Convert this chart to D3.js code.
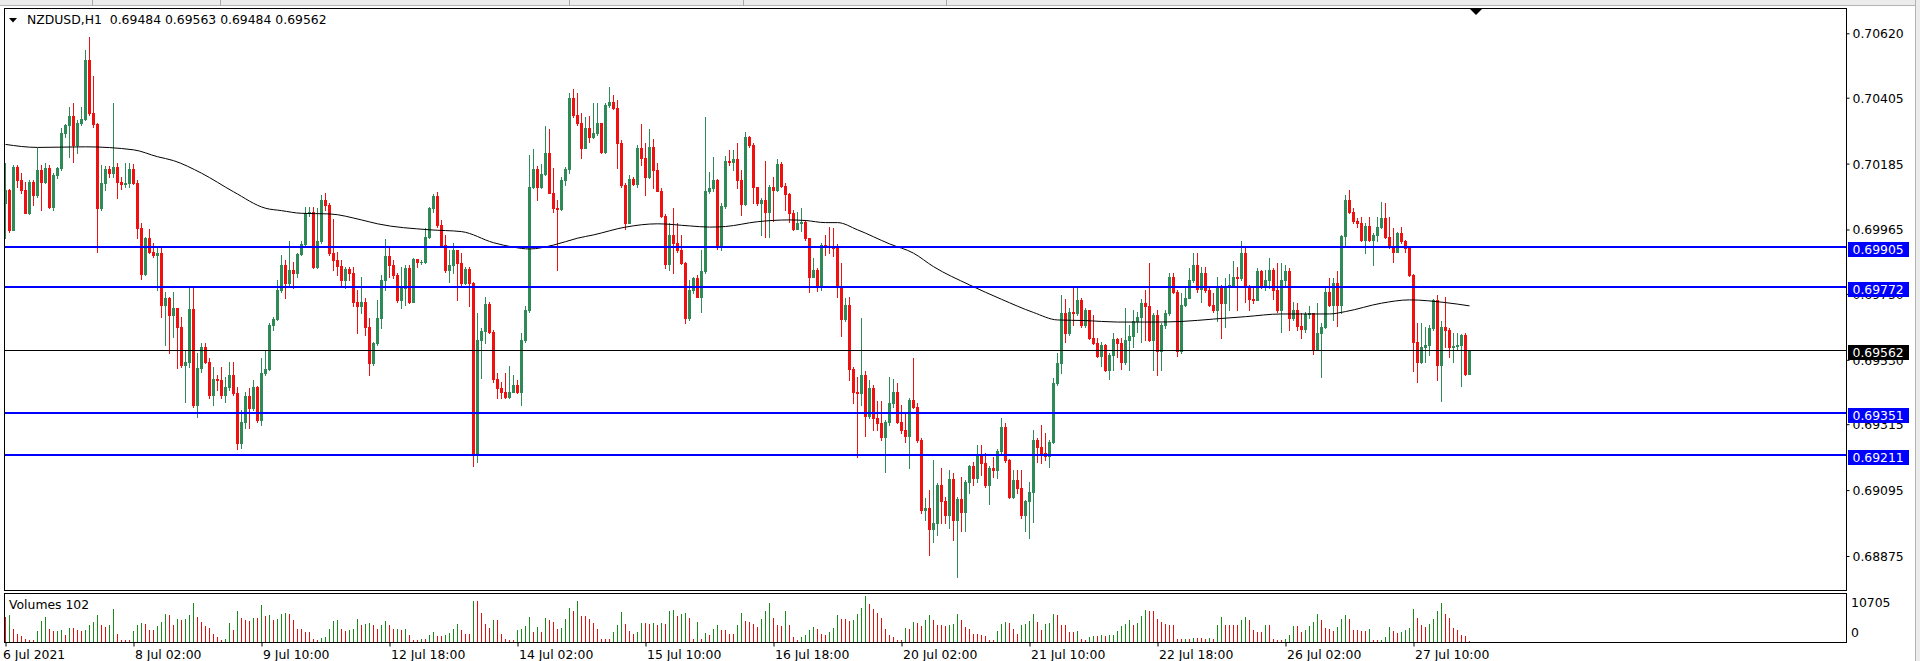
<!DOCTYPE html>
<html><head><meta charset="utf-8">
<script src="https://cdn.jsdelivr.net/npm/d3@7/dist/d3.min.js"></script>
<style>
html,body{margin:0;padding:0;background:#fff;overflow:hidden;}
svg{display:block;}
text{font-family:"DejaVu Sans",Verdana,sans-serif;font-size:12.4px;fill:#000;}
</style></head><body>
<svg id="c" width="1920" height="661"></svg>
<script>
// ---------------- DATA (prices in points, 1 point = 0.00001) ----------------
const symbolTitle = "NZDUSD,H1  0.69484 0.69563 0.69484 0.69562";
const volumeTitle = "Volumes 102";
const firstOpen = 70052;
const closes = [
70097,69963,70175,70130,70097,70021,70125,70080,70164,70125,
70169,70041,70147,70169,70286,70314,70344,70247,70319,70333,
70531,70353,70316,70036,70119,70166,70155,70175,70125,70117,
70121,70166,70119,69969,69816,69936,69891,69880,69885,69713,
69735,69680,69702,69641,69513,69524,69699,69379,69502,69572,
69524,69413,69465,69463,69413,69438,69479,69418,69251,69324,
69409,69368,69438,69329,69485,69498,69646,69665,69763,69847,
69785,69830,69819,69883,69917,70021,70025,69841,69925,70064,
70047,69886,69863,69843,69797,69832,69819,69724,69708,69724,
69641,69518,69585,69669,69797,69877,69847,69813,69730,69769,
69836,69724,69866,69858,69858,69941,70036,70077,69980,69913,
69830,69847,69897,69852,69785,69832,69785,69212,69596,69627,
69716,69624,69465,69435,69424,69405,69424,69446,69424,69596,
69696,70108,70166,70108,70150,70222,70088,70036,70032,70130,
70166,70403,70347,70320,70236,70303,70275,70288,70320,70225,
70381,70389,70370,70253,70114,69988,70133,70117,70236,70203,
70139,70242,70164,70095,70010,69850,69947,69919,69897,69852,
69669,69763,69802,69741,69825,70092,70103,70131,69908,70042,
70195,70192,70200,70131,70050,70275,70247,70106,70053,70064,
70025,70108,70097,70184,70111,70084,70019,69966,69986,69991,
69936,69808,69830,69772,69914,69910,69908,69902,69775,69665,
69713,69499,69424,69418,69480,69341,69435,69335,69318,69272,
69321,69385,69424,69324,69296,69274,69396,69374,69263,69029,
69034,68964,68984,69112,69057,69012,69131,68996,69065,69023,
69123,69174,69135,69212,69185,69112,69168,69162,69224,69307,
69196,69073,69129,69101,69012,69057,69090,69263,69240,69218,
69209,69257,69452,69519,69685,69621,69691,69685,69730,69646,
69697,69602,69585,69543,69580,69496,69546,69599,69585,69521,
69596,69608,69658,69674,69719,69710,69596,69680,69558,69646,
69685,69808,69758,69558,69713,69736,69797,69847,69766,69819,
69763,69713,69697,69775,69721,69777,69780,69806,69802,69886,
69775,69732,69730,69825,69775,69797,69830,69763,69697,69797,
69825,69669,69697,69643,69632,69683,69686,69565,69619,69641,
69758,69713,69786,69713,69944,70062,70025,69995,69986,69930,
69977,69930,69947,69975,70003,69941,69908,69891,69953,69925,
69903,69814,69591,69524,69574,69580,69635,69728,69513,69641,
69630,69574,69577,69580,69613,69484,69562];
const highs = [
70188,70099,70180,70180,70153,70125,70130,70130,70236,70180,
70186,70180,70153,70175,70303,70317,70375,70386,70331,70373,
70564,70609,70477,70319,70180,70177,70177,70388,70186,70141,
70186,70186,70184,70130,69986,69941,69966,69919,69908,69908,
69758,69741,69758,69702,69674,69563,69774,69774,69552,69585,
69587,69535,69507,69479,69507,69474,69524,69524,69440,69362,
69424,69435,69463,69443,69535,69563,69652,69674,69796,69880,
69863,69927,69858,69886,69925,70041,70041,70041,70036,70080,
70086,70053,69999,69891,69863,69841,69841,69841,69763,69806,
69735,69669,69591,69730,69813,69933,69902,69863,69819,69841,
69847,69847,69869,69866,69863,69969,70041,70084,70091,69997,
69947,69897,69919,69891,69886,69841,69841,69791,69685,69635,
69741,69724,69630,69485,69457,69485,69510,69479,69463,69619,
69708,70214,70233,70177,70184,70311,70300,70169,70064,70141,
70175,70422,70433,70420,70353,70342,70344,70386,70386,70320,
70386,70440,70414,70398,70264,70119,70147,70139,70247,70318,
70253,70300,70266,70186,70103,70017,69986,70036,69986,69947,
69858,69797,69808,69813,69895,70340,70158,70208,70133,70053,
70211,70231,70231,70255,70164,70289,70277,70253,70108,70069,
70195,70114,70139,70200,70192,70119,70088,70030,70022,70036,
69997,69936,69869,69836,69919,69947,69975,69969,69917,69852,
69736,69741,69507,69474,69669,69491,69463,69446,69391,69391,
69329,69472,69465,69452,69379,69357,69402,69535,69385,69268,
69068,69096,69196,69118,69168,69073,69162,69151,69073,69140,
69129,69179,69190,69246,69246,69218,69174,69207,69231,69335,
69318,69198,69162,69162,69162,69062,69123,69296,69268,69313,
69285,69263,69468,69552,69747,69732,69702,69774,69774,69735,
69702,69669,69680,69602,69591,69583,69552,69619,69602,69602,
69702,69646,69697,69691,69732,69763,69852,69685,69697,69652,
69697,69821,69819,69763,69752,69775,69836,69888,69886,69841,
69841,69769,69752,69808,69780,69802,69817,69861,69841,69925,
69908,69780,69775,69836,69830,69830,69869,69836,69852,69852,
69847,69836,69724,69721,69686,69691,69708,69683,69719,69652,
69775,69802,69802,69825,69947,70081,70097,70036,70003,70008,
69986,70006,69953,70008,70058,70055,70008,69969,69958,69973,
69930,69906,69817,69652,69652,69641,69647,69732,69747,69658,
69741,69635,69619,69621,69617,69619,69563];
const lows = [
69936,69958,70002,70108,70086,70019,70017,70047,70075,70030,
70119,70036,70030,70136,70164,70275,70208,70191,70219,70314,
70331,70347,70308,69891,70030,70097,70141,70141,70069,70099,
70108,70108,70117,69936,69799,69813,69886,69874,69763,69674,
69580,69552,69607,69502,69507,69390,69507,69374,69340,69490,
69518,69401,69379,69429,69401,69390,69429,69413,69231,69235,
69301,69301,69362,69324,69312,69479,69496,69630,69663,69758,
69735,69774,69769,69808,69880,69913,70010,69836,69836,69921,
70030,69880,69830,69813,69774,69769,69797,69708,69619,69685,
69613,69480,69513,69580,69635,69763,69808,69802,69724,69702,
69713,69721,69769,69841,69850,69852,69936,70025,69975,69913,
69824,69791,69819,69730,69780,69783,69710,69174,69190,69468,
69585,69619,69457,69402,69402,69402,69402,69429,69418,69379,
69591,69691,70103,70064,70103,70147,70086,70025,69830,70030,
70114,70153,70342,70314,70203,70236,70258,70270,70281,70222,
70220,70375,70366,70170,70108,69966,69986,70114,70108,70181,
70080,70136,70103,70092,70008,69836,69830,69821,69891,69850,
69652,69663,69754,69739,69691,69821,70086,70092,69899,69897,
70036,70181,70164,70103,70014,70047,70242,70053,70047,69947,
69941,69941,69995,70095,70106,70030,69991,69964,69973,69961,
69930,69758,69806,69761,69763,69880,69886,69877,69741,69608,
69661,69461,69385,69207,69380,69274,69335,69296,69296,69263,
69157,69313,69374,69320,69285,69257,69168,69368,69257,69018,
68996,68879,68923,68945,68984,68984,68968,68929,68806,68957,
68957,69085,69112,69123,69146,69107,69049,69140,69135,69218,
69190,69068,69068,69085,69001,68957,68934,68990,69190,69185,
69196,69171,69251,69446,69487,69591,69613,69646,69680,69641,
69641,69599,69583,69539,69510,69491,69465,69496,69541,69498,
69516,69496,69574,69624,69591,69596,69594,69496,69480,69496,
69635,69680,69752,69543,69554,69708,69736,69791,69758,69724,
69758,69708,69691,69658,69602,69641,69697,69772,69697,69797,
69724,69697,69719,69728,69769,69763,69769,69732,69691,69624,
69775,69630,69663,69630,69602,69624,69669,69550,69563,69474,
69635,69708,69663,69643,69686,69908,70019,69986,69973,69925,
69888,69925,69847,69925,69969,69936,69903,69858,69897,69919,
69891,69810,69491,69457,69519,69524,69546,69630,69463,69391,
69574,69541,69521,69563,69443,69480,69484];
const volumes = [
5710,6265,2776,1745,1190,555,159,150,2300,4679,
5710,2776,2300,2350,2538,1507,3093,3050,2538,2300,
2540,3727,4520,6265,3727,3331,3700,7534,1745,317,
159,140,2300,3886,4362,4124,2538,2500,3569,4520,
6503,6265,3727,5313,4917,5313,6106,8961,5710,4520,
3569,3093,1745,952,317,555,4362,2538,7216,5472,
4917,4679,5472,5420,8644,5948,6265,4917,5155,6503,
6661,6503,4917,2934,2900,2141,2100,397,317,714,
952,2934,4679,4917,2776,2300,2538,2934,5313,3886,
4124,4362,3886,2776,3886,4679,3727,2776,2934,2538,
2934,1348,317,300,555,540,1348,2141,1190,1170,
1348,1983,2776,4124,2538,1745,1700,9595,9437,6661,
4124,3093,4996,4950,1745,555,159,150,2538,2776,
3569,5789,2141,3331,2141,5472,4996,4520,2776,3093,
5313,7851,7058,9437,5948,5900,5313,4362,2776,555,
540,397,2141,3886,6899,4124,2300,1745,2141,4362,
4300,4124,4362,3886,4362,4124,7058,7296,5948,6503,
6661,5472,555,4600,397,1983,1348,2934,3886,2538,
2500,1745,1700,3727,6740,4679,4520,4124,3331,5155,
7058,9120,5472,3727,3569,7058,3886,952,159,952,
1507,2538,3331,2776,1745,1507,2141,3093,6106,5313,
5155,4679,4917,6503,7851,10705,8882,7692,6740,5472,
2934,1348,952,317,159,3093,2934,4520,4362,3569,
4917,6265,4917,3727,3700,3680,3886,4124,6503,4917,
3331,2776,1745,1700,1348,1190,159,150,2300,4124,
4520,4362,2776,1745,3886,4124,4679,6503,4520,2538,
4124,4362,6503,6265,3886,3850,2141,2100,2300,397,
317,952,1190,1170,1348,1190,1348,1507,2300,3569,
4124,4917,3886,4362,5948,7296,7250,7200,5155,4520,
4124,3886,3727,555,397,555,540,714,700,690,
555,714,555,3727,5710,3886,3850,3820,3800,4917,
5710,4917,2538,2141,2100,3727,3700,397,317,159,
397,1507,3569,3550,2141,2538,3569,4520,6503,4917,
3093,2934,2300,3331,5313,6265,5155,2538,2500,2480,
2460,2776,159,150,317,952,3331,2300,1983,2141,
2538,3093,7692,5472,3727,3331,4124,5313,7058,9120,
6503,5472,3093,2538,1507,1190,102];
// moving average read at selected bars
const maBars = [0,8,20,32,38,42,49,57,65,69,74,81,89,93,106,114,122,127,131,137,143,147,155,163,171,176,180,188,196,200,205,208,213,221,227,232,241,249,257,263,270,278,287,294,302,310,319,331,335,344,351,360,366];
const maValues = [70249,70239,70241,70231,70208,70195,70153,70091,70036,70028,70019,70017,69997,69984,69964,69958,69921,69906,69900,69913,69936,69947,69973,69984,69977,69973,69975,69991,69997,69995,69988,69988,69964,69917,69886,69841,69780,69732,69688,69663,69661,69656,69656,69658,69666,69674,69683,69683,69691,69719,69730,69721,69710];
const priceTicks = [0.70620,0.70405,0.70185,0.69965,0.69750,0.69530,0.69315,0.69095,0.68875];
const levelLines = [0.69905,0.69772,0.69351,0.69211];
const bidPrice = 0.69562;
const timeLabels = ["6 Jul 2021","8 Jul 02:00","9 Jul 10:00","12 Jul 18:00","14 Jul 02:00","15 Jul 10:00","16 Jul 18:00","20 Jul 02:00","21 Jul 10:00","22 Jul 18:00","26 Jul 02:00","27 Jul 10:00"];
const timeLabelBars = [0,32,64,96,128,160,192,224,256,288,320,352];
const volTicks = [10705, 0];

(function draw(){
const P = 1e-5;
const BULL = "#2e8b57", BEAR = "#f01010", LEVEL = "#0000ff";
const svg = d3.select("#c");
const n = closes.length;
const pL = 4, pR = 1846, pT = 8, mainB = 590, volT = 593, volB = 642;
const FONT = '"DejaVu Sans",Verdana,sans-serif';

const x = d3.scaleLinear().domain([0, 366]).range([5, 1469]);
const y = d3.scaleLinear().domain([0.70620, 0.68875]).range([33.3, 556.0]);
const yv = d3.scaleLinear().domain([0, 10705]).range([641, 596]);

// window chrome
svg.append("rect").attr("x",0).attr("y",0).attr("width",1920).attr("height",661).attr("fill","#fff");
svg.append("rect").attr("x",0).attr("y",0).attr("width",1920).attr("height",5).attr("fill","#ececec");
svg.append("line").attr("x1",0).attr("x2",1920).attr("y1",5.5).attr("y2",5.5).attr("stroke","#b4b4b4");
[92, 220, 569, 743, 946].forEach(sx => svg.append("line").attr("x1",sx+0.5).attr("x2",sx+0.5).attr("y1",0).attr("y2",6).attr("stroke","#a8a8a8"));
svg.append("rect").attr("x",1915).attr("y",0).attr("width",5).attr("height",661).attr("fill","#ececec");
svg.append("line").attr("x1",1915.5).attr("x2",1915.5).attr("y1",0).attr("y2",661).attr("stroke","#b4b4b4");

const defs = svg.append("defs");
defs.append("clipPath").attr("id","clipMain").append("rect").attr("x",pL+1).attr("y",pT+1).attr("width",pR-pL-1).attr("height",mainB-pT-1);
defs.append("clipPath").attr("id","clipVol").append("rect").attr("x",pL+1).attr("y",volT+1).attr("width",pR-pL-1).attr("height",volB-volT-1);

// candles
const opens = closes.map((c,i) => i === 0 ? firstOpen : closes[i-1]);
const gC = svg.append("g").attr("clip-path","url(#clipMain)");
const bars = d3.range(n).map(i => ({i, o: opens[i]*P, h: highs[i]*P, l: lows[i]*P, c: closes[i]*P}));
bars.forEach(d => {
  const cx = Math.round(x(d.i));
  const col = d.c >= d.o ? BULL : BEAR;
  const yH = Math.round(y(Math.max(d.h, d.o, d.c)));
  const yL = Math.round(y(Math.min(d.l, d.o, d.c)));
  const yT = Math.round(y(Math.max(d.o, d.c)));
  const yB = Math.round(y(Math.min(d.o, d.c)));
  gC.append("rect").attr("x",cx).attr("y",yH).attr("width",1).attr("height",Math.max(1,yL-yH+1)).attr("fill",col);
  gC.append("rect").attr("x",cx-1).attr("y",yT).attr("width",3).attr("height",Math.max(1,yB-yT+1)).attr("fill",col);
});

// moving average
const maPts = maBars.map((b,k) => [b, maValues[k]*P]);
gC.append("path").datum(maPts)
  .attr("d", d3.line().x(d => x(d[0])+0.5).y(d => y(d[1])).curve(d3.curveMonotoneX))
  .attr("fill","none").attr("stroke","#000").attr("stroke-width",1);

// horizontal levels
levelLines.forEach(v => {
  const yy = Math.round(y(v));
  gC.append("rect").attr("x",pL).attr("y",yy-1).attr("width",pR-pL).attr("height",2).attr("fill",LEVEL);
});
gC.append("rect").attr("x",pL).attr("y",Math.round(y(bidPrice))).attr("width",pR-pL).attr("height",1).attr("fill","#000");

// volumes
const gV = svg.append("g").attr("clip-path","url(#clipVol)");
volumes.forEach((v,i) => {
  const up = i > 0 && v > volumes[i-1];
  const cx = Math.round(x(i));
  const yy = Math.round(yv(v));
  gV.append("rect").attr("x",cx).attr("y",yy).attr("width",1).attr("height",Math.max(0,volB-yy)).attr("fill", up ? "#1a8a1a" : "#e01010");
});

// panel frames
svg.append("rect").attr("x",pL+0.5).attr("y",pT+0.5).attr("width",pR-pL).attr("height",mainB-pT).attr("fill","none").attr("stroke","#000");
svg.append("rect").attr("x",pL+0.5).attr("y",volT+0.5).attr("width",pR-pL).attr("height",volB-volT).attr("fill","none").attr("stroke","#000");

// price axis
const yAxis = d3.axisRight(y).tickValues(priceTicks).tickSize(3).tickPadding(3).tickFormat(d => d.toFixed(5));
const gA = svg.append("g").attr("transform",`translate(${pR+0.5},0)`).call(yAxis);
gA.select(".domain").remove();
gA.selectAll("line").attr("stroke","#000");
gA.selectAll("text").attr("x",6).attr("dy","0.36em").attr("fill","#000").style("font-family",FONT).style("font-size","12.4px");

// level labels
function tag(v, fill) {
  const yy = Math.round(y(v));
  svg.append("rect").attr("x",1848).attr("y",yy-5).attr("width",61).attr("height",15).attr("fill",fill);
  svg.append("text").attr("x",1852.5).attr("y",yy+7).style("fill","#fff").text(v.toFixed(5));
}
levelLines.forEach(v => tag(v, LEVEL));
tag(bidPrice, "#000");

// volume axis
const yvAxis = d3.axisRight(yv).tickValues(volTicks).tickSize(0).tickFormat(d3.format("d"));
const gVA = svg.append("g").attr("transform",`translate(${pR+0.5},0)`).call(yvAxis);
gVA.select(".domain").remove();
gVA.selectAll(".tick").attr("transform", d => `translate(0,${d === 0 ? 633 : 603})`);
gVA.selectAll("text").attr("x",4.5).attr("dy","0.36em").attr("fill","#000").style("font-family",FONT).style("font-size","12.4px");

// time axis
const xAxis = d3.axisBottom(x).tickValues(timeLabelBars).tickSize(4).tickPadding(5).tickFormat((d,k) => timeLabels[k]);
const gX = svg.append("g").attr("transform",`translate(0.5,${volB+0.5})`).call(xAxis);
gX.select(".domain").remove();
gX.selectAll("line").attr("stroke","#000");
gX.selectAll("text").attr("text-anchor","start").attr("x",(d,k) => k === 0 ? -3 : 1).attr("y",8).attr("dy","0.71em").attr("fill","#000")
  .style("font-family",FONT).style("font-size","12.4px");

// titles
svg.append("path").attr("d","M9,18 L17,18 L13,22.5 Z").attr("fill","#000");
svg.append("text").attr("x",27).attr("y",24).style("white-space","pre").text(symbolTitle);
svg.append("text").attr("x",9).attr("y",609).text(volumeTitle);

// chart shift marker
svg.append("path").attr("d","M1470,9 L1482,9 L1476,15 Z").attr("fill","#000");
})();
</script>
</body></html>
